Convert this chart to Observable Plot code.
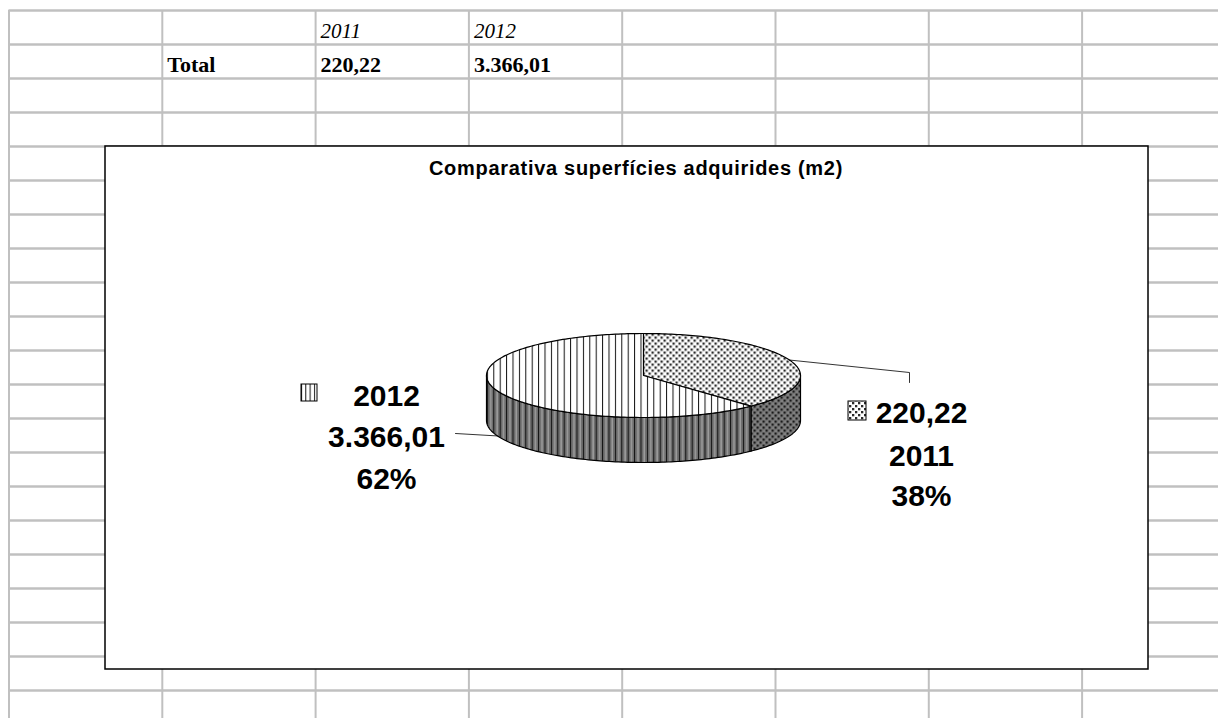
<!DOCTYPE html>
<html>
<head>
<meta charset="utf-8">
<script src="https://cdn.jsdelivr.net/npm/d3@7"></script>
<script src="https://cdn.jsdelivr.net/npm/@observablehq/plot@0.6"></script>
<style>
  html, body { margin: 0; padding: 0; background: #fff; }
  #chart svg { display: block; }
</style>
</head>
<body>
<div id="chart"></div>
<script>
// ---- data ----
const years = ["2011", "2012"];
const totalLabels = ["220,22", "3.366,01"];
const shares = [38, 62];                 // percentages shown on the pie
const rowLabel = "Total";
const chartTitle = "Comparativa superfícies adquirides (m2)";
const patternIds = ["dots", "vlines"];   // 2011, 2012

// ---- layout ----
const W = 1218, H = 718;
const rowTop = 10, rowH = 34, nRows = 21;
const colLeft = 8.5, colW = 153.3, nCols = 8;
const box = {x1: 105, y1: 146, x2: 1148, y2: 669};
const pie = {cx: 643, cy: 375, rx: 157, ry: 42, depth: 45};

const rows = d3.range(nRows).map(k => ({y: rowTop + k * rowH}));
const cols = d3.range(nCols).map(k => ({x: colLeft + k * colW}));

// spreadsheet cells
const headerCells = years.map((t, i) => ({col: 2 + i, row: 0, text: t}));
const boldCells = [
  {col: 1, row: 1, text: rowLabel},
  ...totalLabels.map((t, i) => ({col: 2 + i, row: 1, text: t}))
];
const cellX = c => colLeft + c * colW + 5;
const cellBase = r => rowTop + (r + 1) * rowH - 7;

// pie geometry from shares
const arcs = d3.pie().sort(null).startAngle(0).endAngle(2 * Math.PI)(shares);
const pt = (a, dz = 0) => ({x: pie.cx + pie.rx * Math.sin(a), y: pie.cy - pie.ry * Math.cos(a) + dz});
const arcPts = (a0, a1, dz = 0) => {
  const n = Math.max(2, Math.ceil((a1 - a0) / 0.02));
  return d3.range(n + 1).map(i => pt(a0 + (a1 - a0) * i / n, dz));
};
const tops = arcs.map(a => [{x: pie.cx, y: pie.cy}, ...arcPts(a.startAngle, a.endAngle)]);
const sides = arcs.map(a => {
  const b0 = Math.max(a.startAngle, Math.PI / 2), b1 = Math.min(a.endAngle, 3 * Math.PI / 2);
  if (b0 >= b1) return null;
  return [...arcPts(b0, b1), ...arcPts(b0, b1, pie.depth).reverse()];
});

// labels: [2011 on right, 2012 on left]
const labelPos = [
  {cx: 921, base: [422, 465, 505], key: {x1: 848, x2: 866, y1: 401, y2: 420}, lines: [totalLabels[0], years[0], shares[0] + "%"], anchor: {x: 909, y1: 372, y2: 382}},
  {cx: 386, base: [405, 446, 488], key: {x1: 301, x2: 317, y1: 384, y2: 401}, lines: [years[1], totalLabels[1], shares[1] + "%"], anchor: {x: 455, y: 433}}
];
const labelText = labelPos.flatMap(l => l.lines.map((t, i) => ({x: l.cx, y: l.base[i], text: t})));

// leader lines from slice mid-angles
const leaders = arcs.map((a, i) => {
  const m = (a.startAngle + a.endAngle) / 2;
  const front = Math.cos(m) < 0;
  const p = pt(m, front ? pie.depth : 0);
  const l = labelPos[i].anchor;
  return i === 0
    ? [p, {x: l.x, y: l.y1}, {x: l.x, y: l.y2}]
    : [p, {x: l.x, y: l.y}];
});

const marks = [
  // spreadsheet grid
  Plot.ruleY(rows, {y: "y", x1: cols[0].x, x2: W, stroke: "#c0c0c0", strokeWidth: 2.5}),
  Plot.ruleX(cols, {x: "x", y1: rowTop, y2: H, stroke: "#c0c0c0", strokeWidth: 2}),
  Plot.text(headerCells, {x: d => cellX(d.col), y: d => cellBase(d.row), text: "text", textAnchor: "start", lineAnchor: "bottom",
    fontFamily: "Liberation Serif", fontSize: 21, fontStyle: "italic", fill: "black"}),
  Plot.text(boldCells, {x: d => cellX(d.col), y: d => cellBase(d.row), text: "text", textAnchor: "start", lineAnchor: "bottom",
    fontFamily: "Liberation Serif", fontSize: 22, fontWeight: "bold", fill: "black"}),
  // chart area
  Plot.rect([box], {x1: "x1", x2: "x2", y1: "y1", y2: "y2", fill: "white", stroke: "black", strokeWidth: 1.5}),
  Plot.text([chartTitle], {x: (box.x1 + box.x2) / 2 + 9, y: 174, text: d => d, lineAnchor: "bottom", fontSize: 20, fontWeight: "bold", fill: "black", fontFamily: "Liberation Sans", className: "ctitle"}),
  // pie sides then tops
  ...sides.map((s, i) => s && Plot.line(s, {x: "x", y: "y", curve: "linear-closed", fill: `url(#${patternIds[i]}-side)`, stroke: "black", strokeWidth: 1.2})).filter(Boolean),
  ...tops.map((t, i) => Plot.line(t, {x: "x", y: "y", curve: "linear-closed", fill: `url(#${patternIds[i]}-top)`, stroke: "black", strokeWidth: 1.2})),
  // leaders
  ...leaders.map(l => Plot.line(l, {x: "x", y: "y", stroke: "black", strokeWidth: 0.8})),
  // legend keys
  ...labelPos.map((l, i) => Plot.rect([l.key], {x1: "x1", x2: "x2", y1: "y1", y2: "y2", fill: `url(#${patternIds[i]}-key)`, stroke: "black", strokeWidth: 1})),
  Plot.text(labelText, {x: "x", y: "y", text: "text", lineAnchor: "bottom", fontSize: 30, fontWeight: "bold", fill: "black", fontFamily: "Liberation Sans"})
];

const svg = Plot.plot({
  width: W, height: H, margin: 0,
  x: {domain: [0, W], range: [0, W], axis: null},
  y: {domain: [0, H], range: [0, H], axis: null},
  style: {background: "white", fontFamily: "Liberation Sans"},
  marks
});

// title letter spacing
d3.select(svg).selectAll(".ctitle text").style("letter-spacing", "0.7px");

// pattern definitions
const defs = d3.select(svg).insert("defs", ":first-child");
function vlines(id, bg, step, extra) {
  const p = defs.append("pattern").attr("id", id).attr("patternUnits", "userSpaceOnUse").attr("width", step).attr("height", 10);
  p.append("rect").attr("width", step).attr("height", 10).attr("fill", bg);
  if (extra) p.append("rect").attr("x", step / 2).attr("width", 1.2).attr("height", 10).attr("fill", extra);
  p.append("rect").attr("x", 0).attr("width", 1).attr("height", 10).attr("fill", "#111");
}
function dots(id, bg, fg) {
  const p = defs.append("pattern").attr("id", id).attr("patternUnits", "userSpaceOnUse").attr("width", 6).attr("height", 6);
  p.append("rect").attr("width", 6).attr("height", 6).attr("fill", bg);
  p.append("rect").attr("x", 0).attr("y", 0).attr("width", 2.3).attr("height", 2.3).attr("fill", fg);
  p.append("rect").attr("x", 3).attr("y", 3).attr("width", 2.3).attr("height", 2.3).attr("fill", fg);
}
vlines("vlines-top", "white", 6.4);
vlines("vlines-side", "#6e6e6e", 6.4, "#a8a8a8");
vlines("vlines-key", "white", 4.3);
dots("dots-top", "white", "#2a2a2a");
dots("dots-side", "#808080", "#1a1a1a");
dots("dots-key", "white", "#2a2a2a");

document.getElementById("chart").appendChild(svg);
</script>
</body>
</html>
